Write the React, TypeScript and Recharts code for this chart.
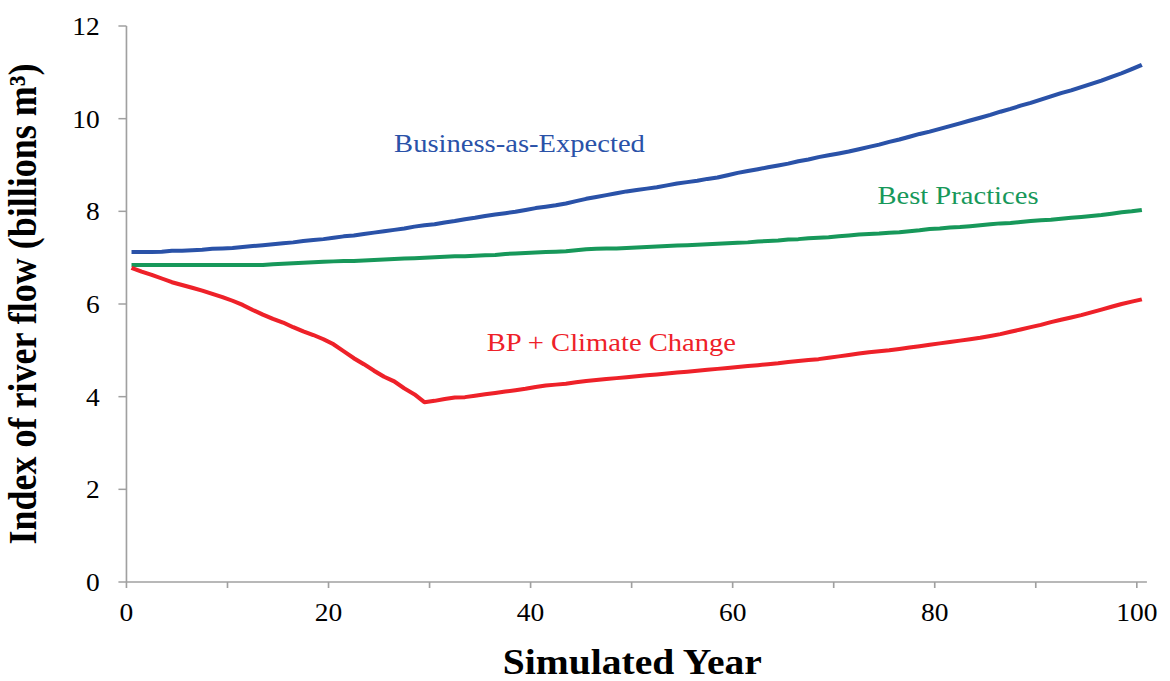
import React from 'react';
import { LineChart, Line, XAxis, YAxis, ReferenceDot } from 'recharts';

// Simulated years (one value per year, 0..100)
const years: number[] = Array.from({ length: 101 }, (_, i) => i);

const businessAsExpected: number[] = [
  7.12, 7.12, 7.12, 7.13, 7.15, 7.15, 7.16, 7.17, 7.19, 7.2,
  7.21, 7.23, 7.25, 7.27, 7.29, 7.31, 7.33, 7.36, 7.38, 7.4,
  7.43, 7.46, 7.48, 7.51, 7.54, 7.57, 7.6, 7.63, 7.67, 7.7,
  7.72, 7.76, 7.79, 7.83, 7.86, 7.9, 7.93, 7.96, 7.99, 8.03,
  8.07, 8.1, 8.13, 8.17, 8.22, 8.27, 8.31, 8.35, 8.39, 8.43,
  8.46, 8.49, 8.52, 8.56, 8.6, 8.63, 8.66, 8.7, 8.73, 8.78,
  8.83, 8.87, 8.91, 8.95, 8.99, 9.03, 9.08, 9.12, 9.17, 9.21,
  9.25, 9.29, 9.34, 9.39, 9.44, 9.5, 9.55, 9.61, 9.67, 9.72,
  9.78, 9.84, 9.9, 9.96, 10.02, 10.08, 10.15, 10.21, 10.28, 10.34,
  10.41, 10.48, 10.55, 10.61, 10.68, 10.75, 10.82, 10.9, 10.98, 11.07,
  11.16,
];

const bestPractices: number[] = [
  6.84, 6.84, 6.84, 6.84, 6.84, 6.84, 6.84, 6.84, 6.84, 6.84,
  6.84, 6.84, 6.84, 6.84, 6.86, 6.87, 6.88, 6.89, 6.9, 6.91,
  6.92, 6.93, 6.93, 6.94, 6.95, 6.96, 6.97, 6.98, 6.99, 7.0,
  7.01, 7.02, 7.03, 7.03, 7.04, 7.05, 7.06, 7.08, 7.09, 7.1,
  7.11, 7.12, 7.13, 7.14, 7.16, 7.18, 7.19, 7.2, 7.2, 7.21,
  7.22, 7.23, 7.24, 7.25, 7.26, 7.27, 7.28, 7.29, 7.3, 7.31,
  7.32, 7.33, 7.35, 7.36, 7.37, 7.39, 7.4, 7.42, 7.43, 7.44,
  7.46, 7.48, 7.5, 7.51, 7.52, 7.54, 7.55, 7.57, 7.59, 7.62,
  7.63, 7.65, 7.66, 7.68, 7.7, 7.72, 7.74, 7.75, 7.77, 7.79,
  7.81, 7.82, 7.84, 7.86, 7.88, 7.9, 7.92, 7.95, 7.98, 8.0,
  8.03,
];

const bpClimateChange: number[] = [
  6.78, 6.7, 6.63, 6.55, 6.47, 6.41, 6.35, 6.29, 6.22, 6.15,
  6.07, 5.98, 5.87, 5.77, 5.68, 5.6, 5.5, 5.41, 5.33, 5.24,
  5.13, 4.98, 4.83, 4.7, 4.56, 4.43, 4.33, 4.18, 4.05, 3.88,
  3.91, 3.95, 3.98, 3.99, 4.02, 4.05, 4.08, 4.11, 4.14, 4.17,
  4.21, 4.24, 4.26, 4.28, 4.31, 4.34, 4.36, 4.38, 4.4, 4.42,
  4.44, 4.46, 4.48, 4.5, 4.52, 4.54, 4.56, 4.58, 4.6, 4.62,
  4.64, 4.66, 4.68, 4.7, 4.72, 4.75, 4.77, 4.79, 4.81, 4.84,
  4.87, 4.9, 4.93, 4.96, 4.98, 5.0, 5.03, 5.06, 5.09, 5.12,
  5.15, 5.18, 5.21, 5.24, 5.27, 5.31, 5.35, 5.4, 5.45, 5.5,
  5.55, 5.61, 5.66, 5.71, 5.76, 5.82, 5.88, 5.94, 6.0, 6.05,
  6.1,
];

const xTicks: number[] = [0, 10, 20, 30, 40, 50, 60, 70, 80, 90, 100];
const yTicks: number[] = [0, 2, 4, 6, 8, 10, 12];

const BLUE = '#2a52a8';
const GREEN = '#17985a';
const RED = '#ee2129';
const AXIS = '#a0a0a0';
const FONT = "'Liberation Serif', 'Times New Roman', serif";

const seriesLabels = [
  { text: 'Business-as-Expected', x: 38.9, y: 9.28, color: BLUE },
  { text: 'Best Practices', x: 82.3, y: 8.16, color: GREEN },
  { text: 'BP + Climate Change', x: 48.0, y: 4.99, color: RED },
];

// each value is reported at the middle of its simulated year
const data = years.map((yr, i) => ({
  t: yr + 0.5,
  bae: businessAsExpected[i],
  bp: bestPractices[i],
  bpcc: bpClimateChange[i],
}));

const CHART_W = 1064;
const CHART_H = 681;

export default function App() {
  return (
    <div style={{ position: 'absolute', left: 0, top: 0, width: 1170, height: 681, overflow: 'hidden', background: '#fff' }}>
      <div style={{ width: CHART_W, height: CHART_H, transform: `scaleX(${1170 / CHART_W})`, transformOrigin: '0 0' }}>
        <LineChart width={CHART_W} height={CHART_H} data={data} margin={{ top: 26, right: 21, bottom: 39, left: 35 }}>
          <XAxis
            dataKey="t"
            type="number"
            domain={[0, 101]}
            ticks={xTicks}
            interval={0}
            tickFormatter={(v: number) => (v % 20 === 0 ? String(v) : '')}
            tick={{ fill: '#000', fontSize: 25, fontFamily: FONT }}
            tickLine={{ stroke: AXIS, strokeWidth: 1.5 }}
            axisLine={{ stroke: AXIS, strokeWidth: 1.5 }}
            tickSize={6}
            tickMargin={15}
            height={60}
            label={{
              content: (props: any) => {
                const vb = props.viewBox || {};
                const cx = (vb.x ?? 0) + (vb.width ?? 0) / 2 - 4;
                return (
                  <text x={cx} y={674} textAnchor="middle" fontFamily={FONT} fontWeight="bold" fontSize={36} fill="#000">
                    Simulated Year
                  </text>
                );
              },
            }}
          />
          <YAxis
            type="number"
            domain={[0, 12]}
            ticks={yTicks}
            interval={0}
            tick={{ fill: '#000', fontSize: 25, fontFamily: FONT }}
            tickLine={{ stroke: AXIS, strokeWidth: 1.5 }}
            axisLine={{ stroke: AXIS, strokeWidth: 1.5 }}
            tickSize={7.3}
            tickMargin={17}
            width={80}
            label={{
              content: (props: any) => {
                const vb = props.viewBox || {};
                const cy = (vb.y ?? 0) + (vb.height ?? 0) / 2;
                const x = 33;
                return (
                  <text x={x} y={cy} transform={`rotate(-90, ${x}, ${cy})`} textAnchor="middle" fontFamily={FONT} fontWeight="bold" fontSize={36} fill="#000">
                    Index of river flow (billions m³)
                  </text>
                );
              },
            }}
          />
          <Line type="linear" dataKey="bae" stroke={BLUE} strokeWidth={4} dot={false} isAnimationActive={false} strokeLinejoin="round" />
          <Line type="linear" dataKey="bp" stroke={GREEN} strokeWidth={4} dot={false} isAnimationActive={false} strokeLinejoin="round" />
          <Line type="linear" dataKey="bpcc" stroke={RED} strokeWidth={4} dot={false} isAnimationActive={false} strokeLinejoin="round" />
          {seriesLabels.map((l) => (
            <ReferenceDot
              key={l.text}
              x={l.x}
              y={l.y}
              r={0}
              ifOverflow="visible"
              shape={(p: any) => (
                <text x={p.cx} y={p.cy} textAnchor="middle" fontFamily={FONT} fontSize={26} fill={l.color}>
                  {l.text}
                </text>
              )}
            />
          ))}
        </LineChart>
      </div>
    </div>
  );
}
